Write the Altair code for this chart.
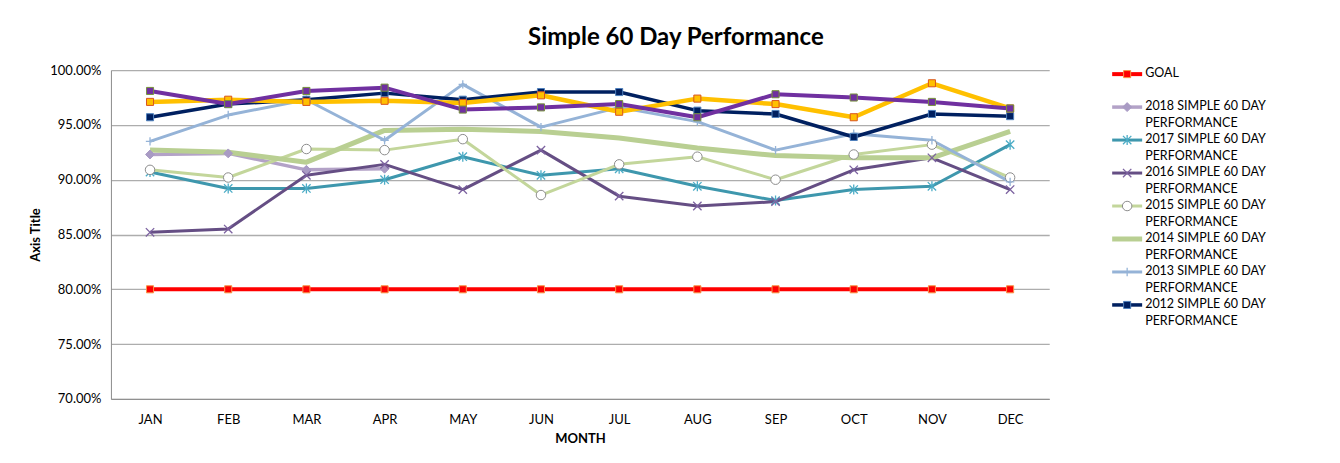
import altair as alt
import pandas as pd

# ---------------- data ----------------
months = ["JAN", "FEB", "MAR", "APR", "MAY", "JUN", "JUL", "AUG", "SEP", "OCT", "NOV", "DEC"]

goal = [0.80, 0.80, 0.80, 0.80, 0.80, 0.80, 0.80, 0.80, 0.80, 0.80, 0.80, 0.80]
perf_2018 = [0.923, 0.924, 0.909, 0.910]
perf_2017 = [0.907, 0.892, 0.892, 0.900, 0.921, 0.904, 0.910, 0.894, 0.881, 0.891, 0.894, 0.932]
perf_2016 = [0.852, 0.855, 0.904, 0.914, 0.891, 0.927, 0.885, 0.876, 0.880, 0.909, 0.920, 0.891]
perf_2015 = [0.909, 0.902, 0.928, 0.927, 0.937, 0.886, 0.914, 0.921, 0.900, 0.923, 0.932, 0.902]
perf_2014 = [0.927, 0.925, 0.916, 0.945, 0.946, 0.944, 0.938, 0.929, 0.922, 0.920, 0.920, 0.944]
perf_2013 = [0.935, 0.959, 0.973, 0.936, 0.987, 0.948, 0.966, 0.953, 0.927, 0.942, 0.936, 0.898]
perf_2012 = [0.957, 0.969, 0.973, 0.979, 0.973, 0.980, 0.980, 0.963, 0.960, 0.939, 0.960, 0.958]
perf_2019 = [0.971, 0.973, 0.971, 0.972, 0.970, 0.977, 0.962, 0.974, 0.969, 0.957, 0.988, 0.965]
perf_2020 = [0.981, 0.969, 0.981, 0.984, 0.964, 0.966, 0.969, 0.957, 0.978, 0.975, 0.971, 0.965]

y_ticks = [0.70, 0.75, 0.80, 0.85, 0.90, 0.95, 1.00]

FONT = "Lato"
X_SHAPE = "M-1,-1L1,1M-1,1L1,-1"
STAR_SHAPE = "M-1,-1L1,1M-1,1L1,-1M0,-1.2L0,1.2"
PLUS_SHAPE = "M-1,0L1,0M0,-1L0,1"

# name, values, line color, line width, marker dict (or None), in legend?
series = [
    ("GOAL", goal, "#FF0000", 4,
     dict(shape="square", size=50, fill="#FF0000", stroke="#F79646", strokeWidth=1), True),
    ("2018 SIMPLE 60 DAY\nPERFORMANCE", perf_2018, "#B3A2C7", 3.5,
     dict(shape="diamond", size=80, fill="#A99BC4", stroke="#A99BC4", strokeWidth=1), True),
    ("2017 SIMPLE 60 DAY\nPERFORMANCE", perf_2017, "#3E97AD", 3,
     dict(shape=STAR_SHAPE, size=70, fill="transparent", stroke="#4BACC6", strokeWidth=1.3), True),
    ("2016 SIMPLE 60 DAY\nPERFORMANCE", perf_2016, "#654E84", 3,
     dict(shape=X_SHAPE, size=70, fill="transparent", stroke="#7C62A0", strokeWidth=1.3), True),
    ("2015 SIMPLE 60 DAY\nPERFORMANCE", perf_2015, "#C3D69B", 3,
     dict(shape="circle", size=90, fill="#FFFFFF", stroke="#8C8C8C", strokeWidth=1), True),
    ("2014 SIMPLE 60 DAY\nPERFORMANCE", perf_2014, "#B9CF92", 5, None, True),
    ("2013 SIMPLE 60 DAY\nPERFORMANCE", perf_2013, "#95B3D7", 3,
     dict(shape=PLUS_SHAPE, size=70, fill="transparent", stroke="#95B3D7", strokeWidth=1.3), True),
    ("2012 SIMPLE 60 DAY\nPERFORMANCE", perf_2012, "#002060", 3.5,
     dict(shape="square", size=50, fill="#002060", stroke="#4F81BD", strokeWidth=1), True),
    ("2019", perf_2019, "#FFC000", 4.5,
     dict(shape="square", size=50, fill="#FFC000", stroke="#D9541E", strokeWidth=1), False),
    ("2020", perf_2020, "#7030A0", 4,
     dict(shape="square", size=50, fill="#7030A0", stroke="#77933C", strokeWidth=1), False),
]

# ---------------- main plot ----------------
x_enc = alt.X(
    "month:N", sort=months, scale=alt.Scale(domain=months),
    axis=alt.Axis(title="MONTH", labelAngle=0, ticks=False, grid=False,
                  labelPadding=15, titlePadding=6, domainColor="#8C8C8C",
                  labelFont=FONT, labelFontSize=13, titleFont=FONT, titleFontSize=13,
                  titleFontWeight="bold", labelColor="#000000", titleColor="#000000"))
y_enc = alt.Y(
    "value:Q", scale=alt.Scale(domain=[0.70, 1.00], nice=False, zero=False),
    axis=alt.Axis(title="Axis Title", values=y_ticks, format=".2%", ticks=False,
                  labelPadding=10, titlePadding=7, gridColor="#ADADAD", gridWidth=1.3,
                  domainColor="#8C8C8C", labelFont=FONT, labelFontSize=13,
                  titleFont=FONT, titleFontSize=13, titleFontWeight="bold",
                  labelColor="#000000", titleColor="#000000"))

line_layers = []
point_layers = []
for name, vals, color, width, marker, _ in series:
    df = pd.DataFrame({"month": months[:len(vals)], "value": vals, "series": name})
    base = alt.Chart(df)
    line_layers.append(base.mark_line(color=color, strokeWidth=width, strokeJoin="round")
                       .encode(x=x_enc, y=y_enc))
    if marker is not None:
        point_layers.append(base.mark_point(opacity=1, filled=False, **marker)
                            .encode(x=x_enc, y=y_enc))

main = alt.layer(*line_layers, *point_layers).properties(width=939, height=329)

# ---------------- legend panel ----------------
legend_items = [s for s in series if s[5]]
legend_keys = [s[0] for s in legend_items]
leg_y = alt.Y("key:N", sort=legend_keys,
              scale=alt.Scale(type="point", domain=legend_keys, range=[4, 235], padding=0),
              axis=None)

leg_layers = []
for name, vals, color, width, marker, _ in legend_items:
    ldf = pd.DataFrame({"key": [name], "label": [name]})
    b = alt.Chart(ldf)
    leg_layers.append(b.mark_rule(color=color, strokeWidth=width)
                      .encode(x=alt.value(10), x2=alt.value(40), y=leg_y))
    if marker is not None:
        leg_layers.append(b.mark_point(opacity=1, filled=False, **marker)
                          .encode(x=alt.value(25), y=leg_y))
    leg_layers.append(b.mark_text(align="left", baseline="top", dy=-7, lineBreak="\n",
                                  lineHeight=17, font=FONT, fontSize=12.5, color="#000000")
                      .encode(x=alt.value(43), y=leg_y, text="label:N"))

legend_panel = alt.layer(*leg_layers).properties(width=230, height=329)

chart = alt.hconcat(main, legend_panel, spacing=53).properties(
    title=alt.TitleParams("Simple 60 Day Performance", font=FONT, fontSize=24,
                          fontWeight="bold", color="#000000", anchor="middle",
                          offset=14, dx=-5),
    padding={"left": 21, "top": 18, "right": 0, "bottom": 2},
).configure_view(stroke=None).configure_concat(spacing=53)

chart.save("out.html", embed_options={"renderer": "svg", "actions": False})
